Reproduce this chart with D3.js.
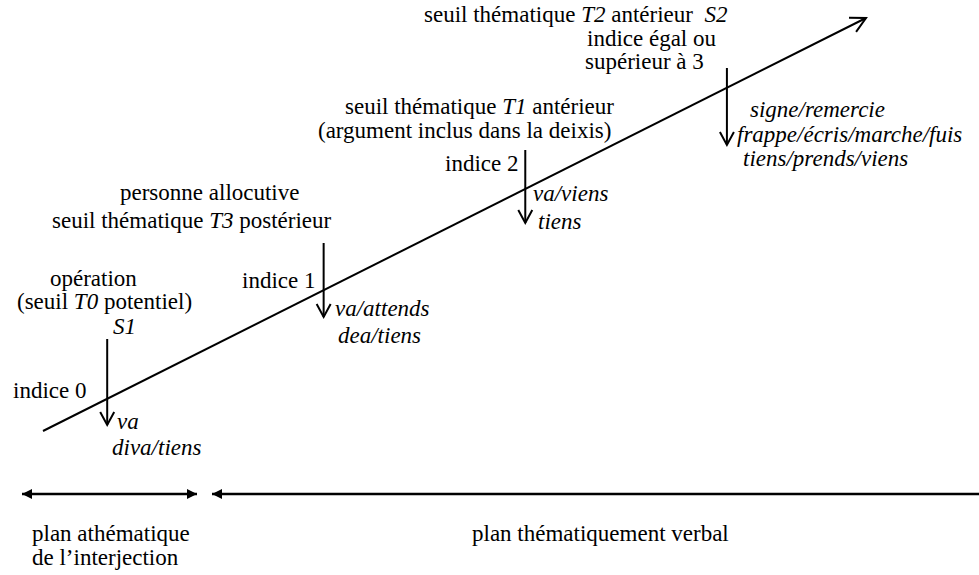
<!DOCTYPE html>
<html>
<head>
<meta charset="utf-8">
<script src="https://cdn.jsdelivr.net/npm/d3@7"></script>
<style>
  body { margin: 0; background: #fff; }
  svg text { font-family: "Times New Roman", "Liberation Serif", Tinos, serif; font-size: 23px; fill: #000; }
</style>
</head>
<body>
<div id="chart"></div>
<script>
let svgWidth = 979;
let svgHeight = 575;

// Data =========================
// position of each threshold along the thematic axis (0 = start, 10 = end)
let stops = [0.78, 3.41, 5.86, 8.31];
let indices = [["indice 0"], ["indice 1"], ["indice 2"], ["indice égal ou", "supérieur à 3"]];
let verbs = [
  ["va", "diva/tiens"],
  ["va/attends", "dea/tiens"],
  ["va/viens", "tiens"],
  ["signe/remercie", "frappe/écris/marche/fuis", "tiens/prends/viens"]
];
// threshold descriptions, [text, italic] segments per line
let thresholds = [
  [[["opération", false]], [["(seuil ", false], ["T0", true], [" potentiel)", false]], [["S1", true]]],
  [[["personne allocutive", false]], [["seuil thématique ", false], ["T3", true], [" postérieur", false]]],
  [[["seuil thématique ", false], ["T1", true], [" antérieur", false]], [["(argument inclus dans la deixis)", false]]],
  [[["seuil thématique ", false], ["T2", true], [" antérieur  ", false], ["S2", true]]]
];
let planes = [["plan athématique", "de l\u2019interjection"], ["plan thématiquement verbal"]];

// Layout =======================
let axisStart = [43, 431];
let axisEnd = [866, 18];
let arrowSpan = [[339, 425], [243, 317], [150, 223], [68, 145]];
let indexLineX = [[13], [242], [445], [587, 585]];
let indexY = [398, 288, 171, 46];
let verbPos = [[[117, 429], [112, 455]], [[335, 316], [338, 343]], [[533, 201], [538, 229]], [[750, 117], [737, 142], [743, 166]]];
let thresholdPos = [[[50, 286], [17, 309], [113, 334]], [[120, 200], [52, 228]], [[345, 114], [318, 138]], [[424, 22]]];
let planeY = 494;
let planeSpans = [[22, 197], [212, 990]];
let planeTextPos = [[[32, 541], [32, 565]], [[472, 541]]];

let svg = d3.select("#chart").append("svg").attr("width", svgWidth).attr("height", svgHeight);

let x = d3.scaleLinear().domain([0, 10]).range([axisStart[0], axisEnd[0]]);
let y = d3.scaleLinear().domain([0, 10]).range([axisStart[1], axisEnd[1]]);

// Main axis with open arrow head
svg.append("line")
  .attr("x1", x(0)).attr("y1", y(0))
  .attr("x2", x(10)).attr("y2", y(10))
  .attr("stroke", "#000").attr("stroke-width", 2);

let ang = Math.atan2(y(10) - y(0), x(10) - x(0));
let headLen = 17, headAng = Math.PI / 6.5;
svg.append("path")
  .attr("d", `M${x(10) - headLen * Math.cos(ang - headAng)},${y(10) - headLen * Math.sin(ang - headAng)}
              L${x(10)},${y(10)}
              L${x(10) - headLen * Math.cos(ang + headAng)},${y(10) - headLen * Math.sin(ang + headAng)}`)
  .attr("fill", "none").attr("stroke", "#000").attr("stroke-width", 2);

// Down arrows at each threshold
let arrows = svg.selectAll("g.stop")
  .data(stops)
  .enter()
  .append("g")
  .classed("stop", true);

arrows.append("line")
  .attr("x1", d => x(d)).attr("x2", d => x(d))
  .attr("y1", (d, i) => arrowSpan[i][0])
  .attr("y2", (d, i) => arrowSpan[i][1])
  .attr("stroke", "#000").attr("stroke-width", 2);

arrows.append("path")
  .attr("d", (d, i) => `M${x(d) - 7},${arrowSpan[i][1] - 13} L${x(d)},${arrowSpan[i][1]} L${x(d) + 7},${arrowSpan[i][1] - 13}`)
  .attr("fill", "none").attr("stroke", "#000").attr("stroke-width", 2);

// Index labels
indices.forEach((lines, i) => {
  lines.forEach((t, j) => {
    svg.append("text")
      .attr("x", indexLineX[i][j])
      .attr("y", indexY[i] + j * 23)
      .text(t);
  });
});

// Verb lists (italic)
verbs.forEach((lines, i) => {
  lines.forEach((t, j) => {
    svg.append("text")
      .attr("x", verbPos[i][j][0])
      .attr("y", verbPos[i][j][1])
      .style("font-style", "italic")
      .text(t);
  });
});

// Threshold descriptions
thresholds.forEach((lines, i) => {
  lines.forEach((segs, j) => {
    let txt = svg.append("text")
      .attr("x", thresholdPos[i][j][0])
      .attr("y", thresholdPos[i][j][1])
      .style("white-space", "pre");
    segs.forEach(s => {
      txt.append("tspan")
        .style("font-style", s[1] ? "italic" : "normal")
        .text(s[0]);
    });
  });
});

// Planes with filled arrow heads
let defs = svg.append("defs");
defs.append("marker")
  .attr("id", "tri-end")
  .attr("viewBox", "0 0 10 10")
  .attr("refX", 10).attr("refY", 5)
  .attr("markerWidth", 5).attr("markerHeight", 4)
  .attr("markerUnits", "strokeWidth")
  .attr("orient", "auto")
  .append("path").attr("d", "M0,0 L10,5 L0,10 Z").attr("fill", "#000");
defs.append("marker")
  .attr("id", "tri-start")
  .attr("viewBox", "0 0 10 10")
  .attr("refX", 0).attr("refY", 5)
  .attr("markerWidth", 5).attr("markerHeight", 4)
  .attr("markerUnits", "strokeWidth")
  .attr("orient", "auto")
  .append("path").attr("d", "M10,0 L0,5 L10,10 Z").attr("fill", "#000");

svg.selectAll("line.plane")
  .data(planeSpans)
  .enter()
  .append("line")
  .classed("plane", true)
  .attr("x1", d => d[0]).attr("x2", d => d[1])
  .attr("y1", planeY).attr("y2", planeY)
  .attr("stroke", "#000").attr("stroke-width", 2.5)
  .attr("marker-start", "url(#tri-start)")
  .attr("marker-end", (d, i) => i == 0 ? "url(#tri-end)" : null);

planes.forEach((lines, i) => {
  lines.forEach((t, j) => {
    svg.append("text")
      .attr("x", planeTextPos[i][j][0])
      .attr("y", planeTextPos[i][j][1])
      .text(t);
  });
});
</script>
</body>
</html>
